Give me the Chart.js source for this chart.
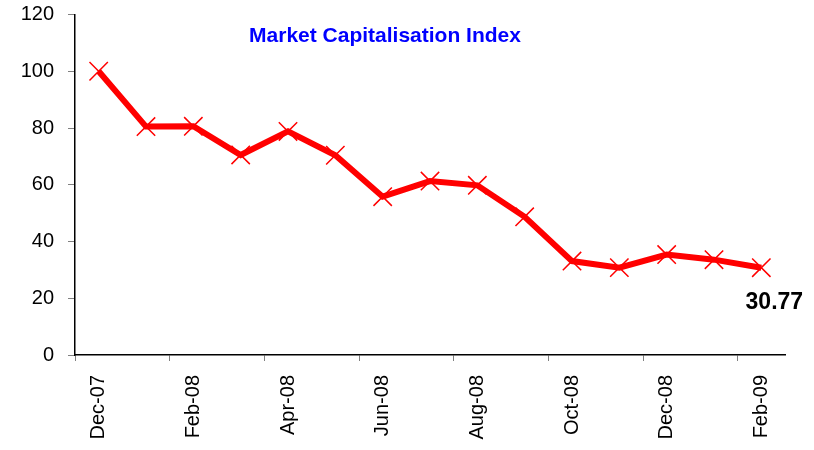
<!DOCTYPE html>
<html>
<head>
<meta charset="utf-8">
<script src="https://cdn.jsdelivr.net/npm/chart.js@4"></script>
<style>
  html, body { margin: 0; padding: 0; background: #fff; }
  #wrap { width: 814px; height: 450px; }
</style>
</head>
<body>
<div id="wrap"><canvas id="capChart" width="814" height="450"></canvas></div>
<script>
const months = ['Dec-07', 'Jan-08', 'Feb-08', 'Mar-08', 'Apr-08', 'May-08', 'Jun-08', 'Jul-08',
    'Aug-08', 'Sep-08', 'Oct-08', 'Nov-08', 'Dec-08', 'Jan-09', 'Feb-09'];
const indexValues = [100, 80.5, 80.6, 70.5, 78.8, 70.4, 55.8, 61.3, 59.8, 48.7, 33.1, 30.8, 35.4, 33.6, 30.77];
const yTicks = [0, 20, 40, 60, 80, 100, 120];
const chartTitle = 'Market Capitalisation Index';

const FONT = '"Liberation Sans", Arial, sans-serif';

// title inside the plot + value label on the last point
const overlayText = {
    id: 'overlayText',
    afterDatasetsDraw(chart) {
        const c = chart.ctx;
        const area = chart.chartArea;
        c.save();
        c.fillStyle = '#0000ff';
        c.font = 'bold 21px ' + FONT;
        c.textAlign = 'center';
        c.textBaseline = 'middle';
        c.fillText(chartTitle, 385, area.top + 22);

        const meta = chart.getDatasetMeta(0);
        const last = meta.data[meta.data.length - 1];
        c.fillStyle = '#000';
        c.font = 'bold 23px ' + FONT;
        c.fillText(indexValues[indexValues.length - 1].toFixed(2), last.x + 13, last.y + 35);
        c.restore();
    }
};

const ctx = document.getElementById('capChart').getContext('2d');
const capChart = new Chart(ctx, {
    type: 'line',
    data: {
        labels: months,
        datasets: [{
            data: indexValues,
            borderColor: '#ff0000',
            borderWidth: 6,
            pointStyle: 'crossRot',
            pointRadius: 13,
            pointBorderWidth: 1.5,
            pointBorderColor: '#ff0000',
            pointBackgroundColor: '#ff0000',
            tension: 0
        }]
    },
    options: {
        responsive: false,
        animation: false,
        layout: { padding: { top: 14, right: 29, left: 0, bottom: 0 } },
        plugins: {
            legend: { display: false },
            tooltip: { enabled: false }
        },
        scales: {
            x: {
                offset: true,
                afterFit: axis => { axis.height = 95; axis.paddingLeft = 0; axis.paddingRight = 0; },
                border: { color: '#000', width: 1.5 },
                grid: {
                    offset: true,
                    drawOnChartArea: false,
                    tickLength: 6,
                    color: ctx => (ctx.index % 2 === 0 && ctx.index < months.length) ? '#808080' : 'rgba(0,0,0,0)'
                },
                ticks: {
                    autoSkip: false,
                    maxRotation: 90,
                    minRotation: 90,
                    padding: 14,
                    color: '#000',
                    font: { family: FONT, size: 20 },
                    callback: function (val, i) { return i % 2 === 0 ? months[i] : ''; }
                }
            },
            y: {
                min: 0,
                max: 120,
                afterBuildTicks: axis => { axis.ticks = yTicks.map(v => ({ value: v })); },
                afterFit: axis => { axis.width = 75; axis.paddingTop = 0; axis.paddingBottom = 0; },
                border: { color: '#000', width: 1.5 },
                grid: { drawOnChartArea: false, tickLength: 7, color: '#808080' },
                ticks: {
                    padding: 14,
                    color: '#000',
                    font: { family: FONT, size: 20 }
                }
            }
        }
    },
    plugins: [overlayText]
});
</script>
</body>
</html>
